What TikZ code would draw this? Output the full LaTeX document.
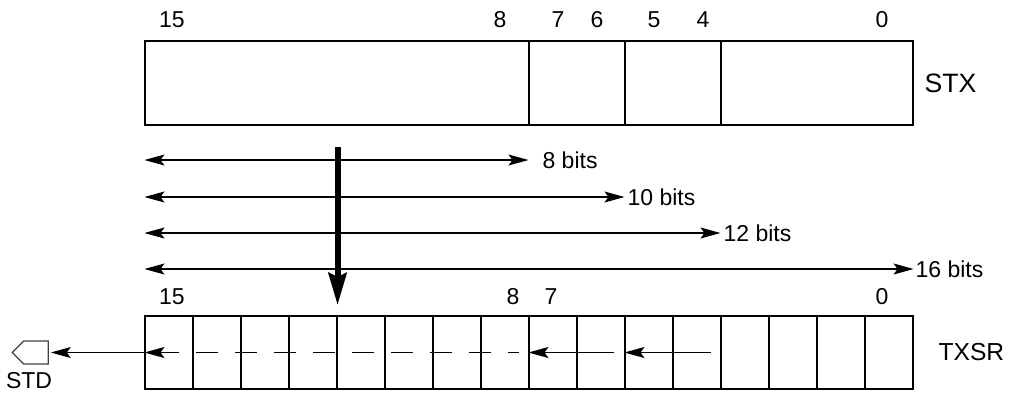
\documentclass[tikz,border=0pt]{standalone}
\usepackage{fontspec}
\setmainfont{Liberation Sans}
\usetikzlibrary{arrows.meta, shapes.symbols}

\begin{document}
\begin{tikzpicture}[
    x=0.5pt, y=-0.5pt,
    line width=0.55pt,
    font=\fontsize{11.5}{13}\selectfont,
    field/.style={rectangle, draw, minimum height=42pt, inner sep=0pt},
    cell/.style={rectangle, draw, minimum width=24pt, minimum height=36.5pt, inner sep=0pt},
    bitnum/.style={inner sep=0pt},
    regname/.style={inner sep=0pt, anchor=west, font=\fontsize{12.3}{14}\selectfont},
    widthlbl/.style={inner sep=0pt, anchor=west},
    widtharrow/.style={{Stealth[length=10pt, width=5.5pt, inset=2pt]}-{Stealth[length=10pt, width=5.5pt, inset=2pt]}},
    shiftarrow/.style={-{Stealth[length=10pt, width=5.5pt, inset=2pt]}},
    loadarrow/.style={line width=3pt, -{Stealth[length=16pt, width=9pt, inset=2pt]}}
]
    \useasboundingbox (0,0) rectangle (1010,393);

    % --- 1. STX register ---
    \node[field, minimum width=192pt] (f15) at (337,83) {};
    \node[field, minimum width=48pt]  (f7)  at (577,83) {};
    \node[field, minimum width=48pt]  (f5)  at (673,83) {};
    \node[field, minimum width=96pt]  (f3)  at (817,83) {};
    \node[regname, font=\fontsize{13.3}{15}\selectfont] (stx) at (924,83) {STX};

    \foreach \b/\x in {15/172, 8/500, 7/558, 6/597, 5/654, 4/703, 0/882}
        \node[bitnum] (sb\b) at (\x,20) {\b};

    % --- 2. Data widths ---
    \node[widthlbl] (w8)  at (542,160) {8 bits};
    \node[widthlbl] (w10) at (627,197) {10 bits};
    \node[widthlbl] (w12) at (723,233) {12 bits};
    \node[widthlbl] (w16) at (915,269) {16 bits};

    % --- 3. TXSR register ---
    \foreach \b in {15,...,0}
        \node[cell] (c\b) at ({169+(15-\b)*48},352.5) {};
    \node[regname] (txsr) at (938,352) {TXSR};

    \foreach \b/\x in {15/172, 8/513, 7/551, 0/882}
        \node[bitnum] (tb\b) at (\x,297) {\b};

    \draw[widtharrow] (f15.west |- w8)  -- (c7.west |- w8);
    \draw[widtharrow] (f15.west |- w10) -- (c5.west |- w10);
    \draw[widtharrow] (f15.west |- w12) -- (c3.west |- w12);
    \draw[widtharrow] (f15.west |- w16) -- (c0.east |- w16);

    % --- 4. Load path STX -> TXSR ---
    \coordinate (ldtop) at (c12.east |- 0,147);
    \coordinate (ldtip) at (c12.east |- 0,305);
    \draw[loadarrow] (ldtop) -- (ldtip);

    % --- 5. Serial shift out ---
    \node[signal, signal to=west, draw=black!75, minimum width=18pt, minimum height=11.5pt, inner sep=0pt] (std) at (36,352.5) {};
    \node[inner sep=0pt] (stdlbl) at (29,381) {STD};

    \draw[shiftarrow] ([xshift=-5.5pt]c4.east) -- (c5.west);
    \draw[shiftarrow] ([xshift=-6pt]c6.east) -- (c7.west);
    \draw[shiftarrow, dash pattern=on 11pt off 8.5pt, dash phase=5.5pt] ([xshift=-5.5pt]c8.east) -- (c15.west);
    \draw[shiftarrow] (c15.west) -- ([xshift=1pt]std.east);

\end{tikzpicture}
\end{document}
